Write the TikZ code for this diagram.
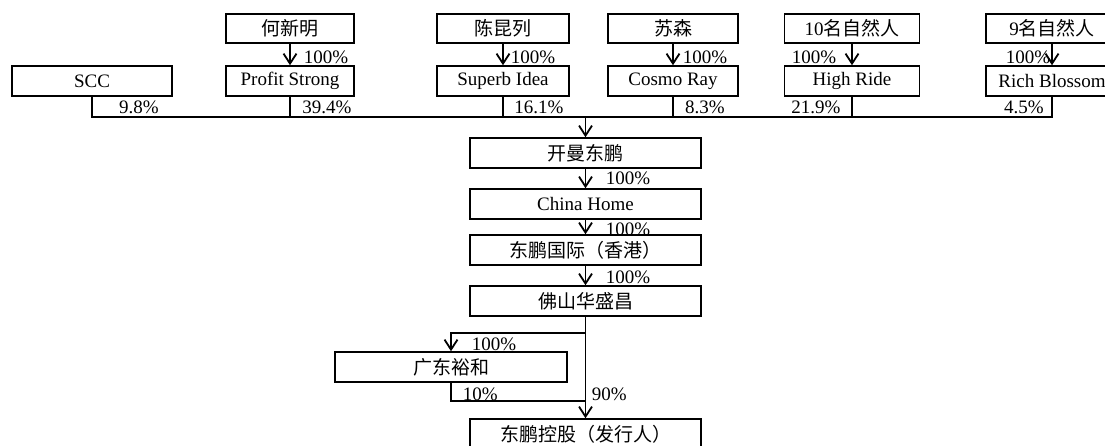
\documentclass[tikz,border=0pt]{standalone}
\usepackage{fontspec}
\setmainfont{Liberation Serif}
\newfontfamily\cjk{Noto Sans CJK SC}
\usetikzlibrary{arrows.meta}
\newcommand{\rowtop}{28.5}
\newcommand{\rowmid}{81}
\newcommand{\busy}{117}
\newcommand{\colx}{585.5}

\begin{document}
\begin{tikzpicture}[x=1pt, y=-1pt, line width=1.5pt, font=\fontsize{19}{21}\selectfont]
  \tikzset{holder/.style={draw, fill=white, minimum height=29, inner sep=0pt}}
  \tikzset{entity/.style={draw, fill=white, minimum height=30, minimum width=231, inner sep=0pt}}
  \tikzset{own/.style={-{Straight Barb[length=10pt, width=13pt, line width=1.8pt]}}}
  \tikzset{pct/.style={inner sep=0pt}}
  \useasboundingbox (0,0) rectangle (1105,446);
  % shareholders
  \node[holder, minimum width=128] (he) at (290, \rowtop) {\cjk 何新明};
  \node[holder, minimum width=132] (chen) at (503, \rowtop) {\cjk 陈昆列};
  \node[holder, minimum width=130] (su) at (673, \rowtop) {\cjk 苏森};
  \node[holder, minimum width=135] (ten) at (852, \rowtop) {10{\cjk 名自然人}};
  \node[holder, minimum width=132] (nine) at (1052, \rowtop) {9{\cjk 名自然人}};
  \node[holder, minimum width=160, minimum height=30] (scc) at (92, \rowmid) {SCC};
  \node[holder, minimum width=128, minimum height=30] (profit) at (290, \rowmid) {Profit Strong};
  \node[holder, minimum width=132, minimum height=30] (superb) at (503, \rowmid) {Superb Idea};
  \node[holder, minimum width=130, minimum height=30] (cosmo) at (673, \rowmid) {Cosmo Ray};
  \node[holder, minimum width=135, minimum height=30] (high) at (852, \rowmid) {High Ride};
  \node[holder, minimum width=132, minimum height=30] (rich) at (1052, \rowmid) {Rich Blossom};
  % percentages
  \node[pct] (p-he) at (326, 57) {100\%};
  \node[pct] (p-chen) at (533, 57) {100\%};
  \node[pct] (p-su) at (705, 57) {100\%};
  \node[pct] (p-ten) at (814, 57) {100\%};
  \node[pct] (p-nine) at (1028, 57) {100\%};
  \node[pct] (p-scc) at (139, 107) {9.8\%};
  \node[pct] (p-profit) at (327, 107) {39.4\%};
  \node[pct] (p-superb) at (539, 107) {16.1\%};
  \node[pct] (p-cosmo) at (705, 107) {8.3\%};
  \node[pct] (p-high) at (816, 107) {21.9\%};
  \node[pct] (p-rich) at (1024, 107) {4.5\%};
  \node[pct, anchor=west] (p-kaiman) at (605, 178) {100\%};
  \node[pct, anchor=west] (p-china) at (605, 229) {100\%};
  \node[pct, anchor=west] (p-intl) at (605, 277) {100\%};
  \node[pct] (p-gd) at (494, 344) {100\%};
  \node[pct, anchor=west] (p-gdout) at (462, 394) {10\%};
  \node[pct, anchor=west] (p-direct) at (591, 394) {90\%};
  % group
  \node[entity] (kaiman) at (\colx, 153) {\cjk 开曼东鹏};
  \node[entity] (china) at (\colx, 204) {China Home};
  \node[entity] (intl) at (\colx, 250) {\cjk 东鹏国际（香港）};
  \node[entity] (foshan) at (\colx, 301) {\cjk 佛山华盛昌};
  \node[entity, minimum width=232] (guangdong) at (451, 367) {\cjk 广东裕和};
  \node[entity] (issuer) at (\colx, 434) {\cjk 东鹏控股（发行人）};
  \coordinate (bus) at (\colx, \busy);
  \coordinate (split) at (\colx, 333);
  \coordinate (join) at (\colx, 401);

  \draw[own] (he) -- (profit);
  \draw[own] (chen) -- (superb);
  \draw[own] (su) -- (cosmo);
  \draw[own] (ten) -- (high);
  \draw[own] (nine) -- (rich);
  \draw (scc.south) -- (scc.south |- bus) -- (rich.south |- bus) -- (rich.south);
  \foreach \n in {profit, superb, cosmo, high}
    \draw (\n.south) -- (\n.south |- bus);
  \draw[own] (bus) -- (kaiman);
  \draw[own] (kaiman) -- (china);
  \draw[own] (china) -- (intl);
  \draw[own] (intl) -- (foshan);
  \draw[own] (foshan) -- (issuer);
  \draw[own] (split) -| (guangdong.north);
  \draw (guangdong.south) |- (join);
\end{tikzpicture}
\end{document}
